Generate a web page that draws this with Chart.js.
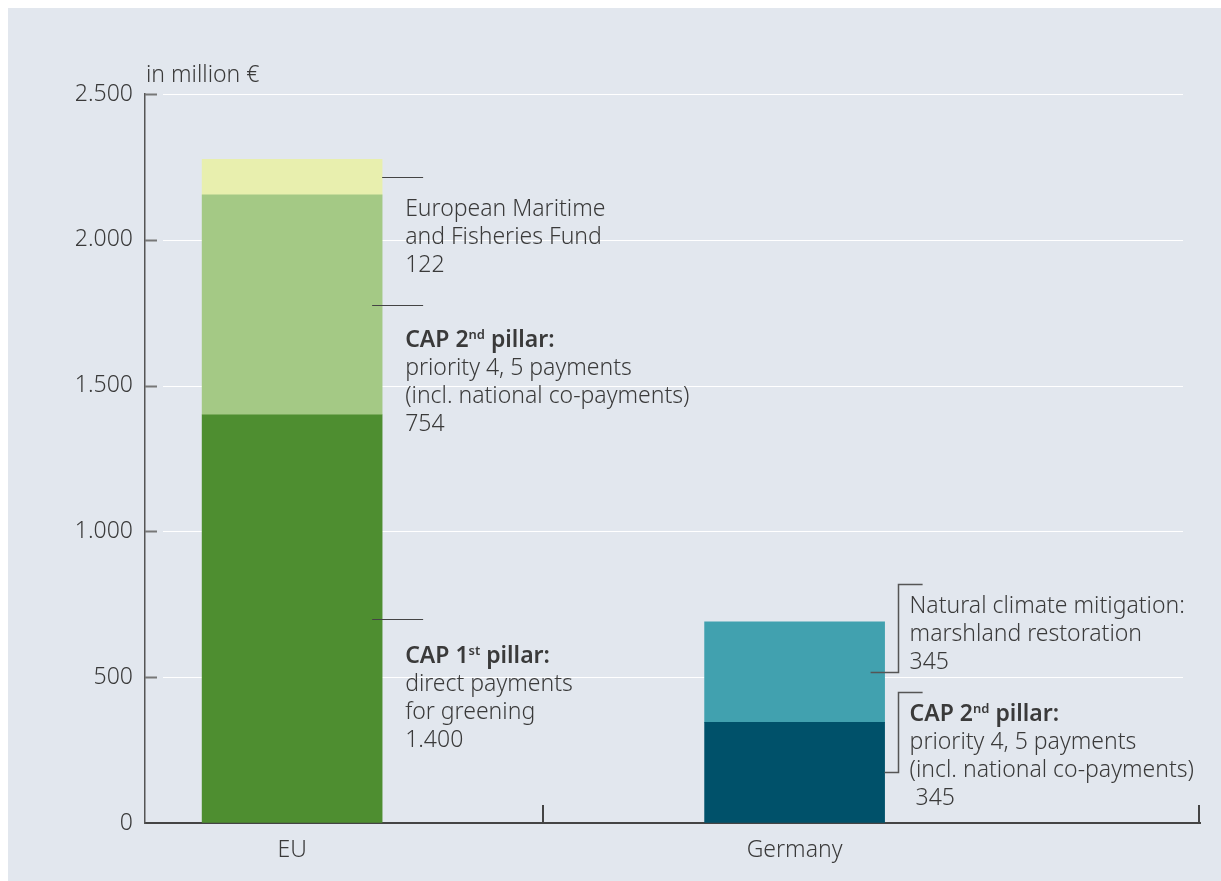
<!DOCTYPE html>
<html>
<head>
<meta charset="utf-8">
<title>Greening funds, EU and Germany</title>
<script src="https://cdn.jsdelivr.net/npm/chart.js@4"></script>
<style>
  html, body { margin: 0; padding: 0; background: #fff; }
  #panel { position: absolute; left: 8px; top: 8px; width: 1213px; height: 873px; background: #e2e7ee; }
</style>
</head>
<body>
<div id="panel"><canvas id="fundingChart"></canvas></div>
<script>
// values in million €
var categories = ['EU', 'Germany'];
var capFirstPillar = [1400, null];
var capSecondPillar = [754, 345];
var fisheriesFund = [122, null];
var climateMitigation = [null, 345];
var yTicks = [0, 500, 1000, 1500, 2000, 2500];
var unitLabel = 'in million €';

var FONT = '"Noto Sans", sans-serif';
var TEXT = '#3a3a3a';
var SIZE = 23;

function fmt(v) {
    return String(v).replace(/\B(?=(\d{3})+(?!\d))/g, '.');
}

function points(values) {
    return values.map(function (v, i) { return { x: i + 1, y: v }; });
}

// text blocks next to the bars; {..} marks a superscript
var notes = [
    { ds: 2, cat: 0, kind: 'leader', dy: 32, inset: 0, bold: false,
      lines: ['European Maritime', 'and Fisheries Fund', fmt(fisheriesFund[0])] },
    { ds: 1, cat: 0, kind: 'leader', dy: 35, inset: 10, bold: true,
      lines: ['CAP 2{nd} pillar:', 'priority 4, 5 payments', '(incl. national co-payments)', fmt(capSecondPillar[0])] },
    { ds: 0, cat: 0, kind: 'leader', dy: 37, inset: 10, bold: true,
      lines: ['CAP 1{st} pillar:', 'direct payments', 'for greening', fmt(capFirstPillar[0])] },
    { ds: 3, cat: 1, kind: 'bracket', dy: -66, inset: 14, bold: false,
      lines: ['Natural climate mitigation:', 'marshland restoration', fmt(climateMitigation[1])] },
    { ds: 1, cat: 1, kind: 'bracket', dy: -58, inset: 0, bold: true,
      lines: ['CAP 2{nd} pillar:', 'priority 4, 5 payments', '(incl. national co-payments)', ' ' + fmt(capSecondPillar[1])] }
];

function drawRich(ctx, text, x, y, bold) {
    var parts = text.split(/(\{[^}]*\})/);
    parts.forEach(function (p) {
        if (!p) return;
        var sup = p.charAt(0) === '{';
        var t = sup ? p.slice(1, -1) : p;
        ctx.font = (bold ? '600 ' : '300 ') + (sup ? '13px ' : SIZE + 'px ') + FONT;
        ctx.fillText(t, x, sup ? y - 5 : y);
        x += ctx.measureText(t).width;
    });
}

var backdrop = {
    id: 'backdrop',
    beforeDatasetsDraw: function (chart) {
        var ctx = chart.ctx, area = chart.chartArea, y = chart.scales.y;
        ctx.save();
        y.ticks.forEach(function (t) {
            if (t.value === 0) return;
            var py = Math.round(y.getPixelForValue(t.value));
            ctx.strokeStyle = '#ffffff';
            ctx.lineWidth = 1;
            ctx.beginPath();
            ctx.moveTo(area.left + 18, py + 0.5);
            ctx.lineTo(area.right - 17, py + 0.5);
            ctx.stroke();
            ctx.strokeStyle = '#777';
            ctx.lineWidth = 2;
            ctx.beginPath();
            ctx.moveTo(area.left, py + 0.5);
            ctx.lineTo(area.left + 12, py + 0.5);
            ctx.stroke();
        });
        ctx.restore();
    }
};

var annotations = {
    id: 'annotations',
    afterDatasetsDraw: function (chart) {
        var ctx = chart.ctx, area = chart.chartArea, x = chart.scales.x;
        ctx.save();

        // unit above the value axis
        ctx.fillStyle = TEXT;
        ctx.font = '300 ' + SIZE + 'px ' + FONT;
        ctx.textBaseline = 'alphabetic';
        ctx.textAlign = 'left';
        ctx.fillText(unitLabel, area.left + 1, area.top - 12);

        // separators on the category axis
        ctx.strokeStyle = '#444';
        ctx.lineWidth = 2;
        [1.5, x.max].forEach(function (v) {
            var px = Math.min(Math.round(x.getPixelForValue(v)), area.right - 1);
            ctx.beginPath();
            ctx.moveTo(px, area.bottom - 18);
            ctx.lineTo(px, area.bottom);
            ctx.stroke();
        });

        notes.forEach(function (n) {
            var bar = chart.getDatasetMeta(n.ds).data[n.cat];
            var right = bar.x + bar.width / 2;
            var mid = Math.round((bar.y + bar.base) / 2) + 0.5;
            var first = mid + n.dy;
            var tx;

            ctx.strokeStyle = '#444';
            ctx.lineWidth = 1;
            ctx.beginPath();
            if (n.kind === 'leader') {
                ctx.moveTo(right - n.inset, mid);
                ctx.lineTo(right + 41, mid);
                tx = right + 23;
            } else {
                var vx = Math.round(right + 13) + 0.5;
                var top = Math.round(first - 23) + 0.5;
                ctx.strokeStyle = '#555';
                ctx.lineWidth = 1.5;
                ctx.moveTo(right - n.inset, mid);
                ctx.lineTo(vx, mid);
                ctx.lineTo(vx, top);
                ctx.lineTo(right + 38, top);
                tx = right + 25;
            }
            ctx.stroke();

            ctx.fillStyle = TEXT;
            ctx.textBaseline = 'middle';
            n.lines.forEach(function (line, i) {
                drawRich(ctx, line, tx, first + i * 28, n.bold && i === 0);
            });
        });
        ctx.restore();
    }
};

new Chart(document.getElementById('fundingChart'), {
    type: 'bar',
    data: {
        datasets: [
            { label: 'CAP 1st pillar', data: points(capFirstPillar), backgroundColor: '#4e8e30' },
            { label: 'CAP 2nd pillar', data: points(capSecondPillar), backgroundColor: ['#a4c985', '#00516a'] },
            { label: 'European Maritime and Fisheries Fund', data: points(fisheriesFund), backgroundColor: '#e8efae' },
            { label: 'Natural climate mitigation', data: points(climateMitigation), backgroundColor: '#41a1af' }
        ]
    },
    options: {
        responsive: true,
        maintainAspectRatio: false,
        animation: false,
        barThickness: 180,
        layout: { padding: { top: 86, right: 21, bottom: 0, left: 0 } },
        plugins: {
            legend: { display: false },
            tooltip: { enabled: false }
        },
        scales: {
            x: {
                type: 'linear',
                stacked: true,
                offset: false,
                min: 0.7072,
                max: 2.8068,
                afterBuildTicks: function (scale) {
                    scale.ticks = categories.map(function (c, i) { return { value: i + 1 }; });
                },
                afterFit: function (scale) { scale.height = 58; },
                ticks: {
                    callback: function (v) { return categories[v - 1]; },
                    font: { family: FONT, size: SIZE, weight: 300 },
                    color: TEXT,
                    padding: 14,
                    maxRotation: 0
                },
                grid: { color: 'transparent', drawTicks: false },
                border: { color: '#444', width: 2 }
            },
            y: {
                stacked: true,
                min: 0,
                max: 2500,
                afterBuildTicks: function (scale) {
                    scale.ticks = yTicks.map(function (v) { return { value: v }; });
                },
                afterFit: function (scale) { scale.width = 137; },
                ticks: {
                    callback: function (v) { return fmt(v); },
                    font: { family: FONT, size: SIZE, weight: 300 },
                    color: TEXT,
                    padding: 12
                },
                grid: { color: 'transparent', drawTicks: false },
                border: { color: '#555', width: 1.5 }
            }
        }
    },
    plugins: [backdrop, annotations]
});
</script>
</body>
</html>
